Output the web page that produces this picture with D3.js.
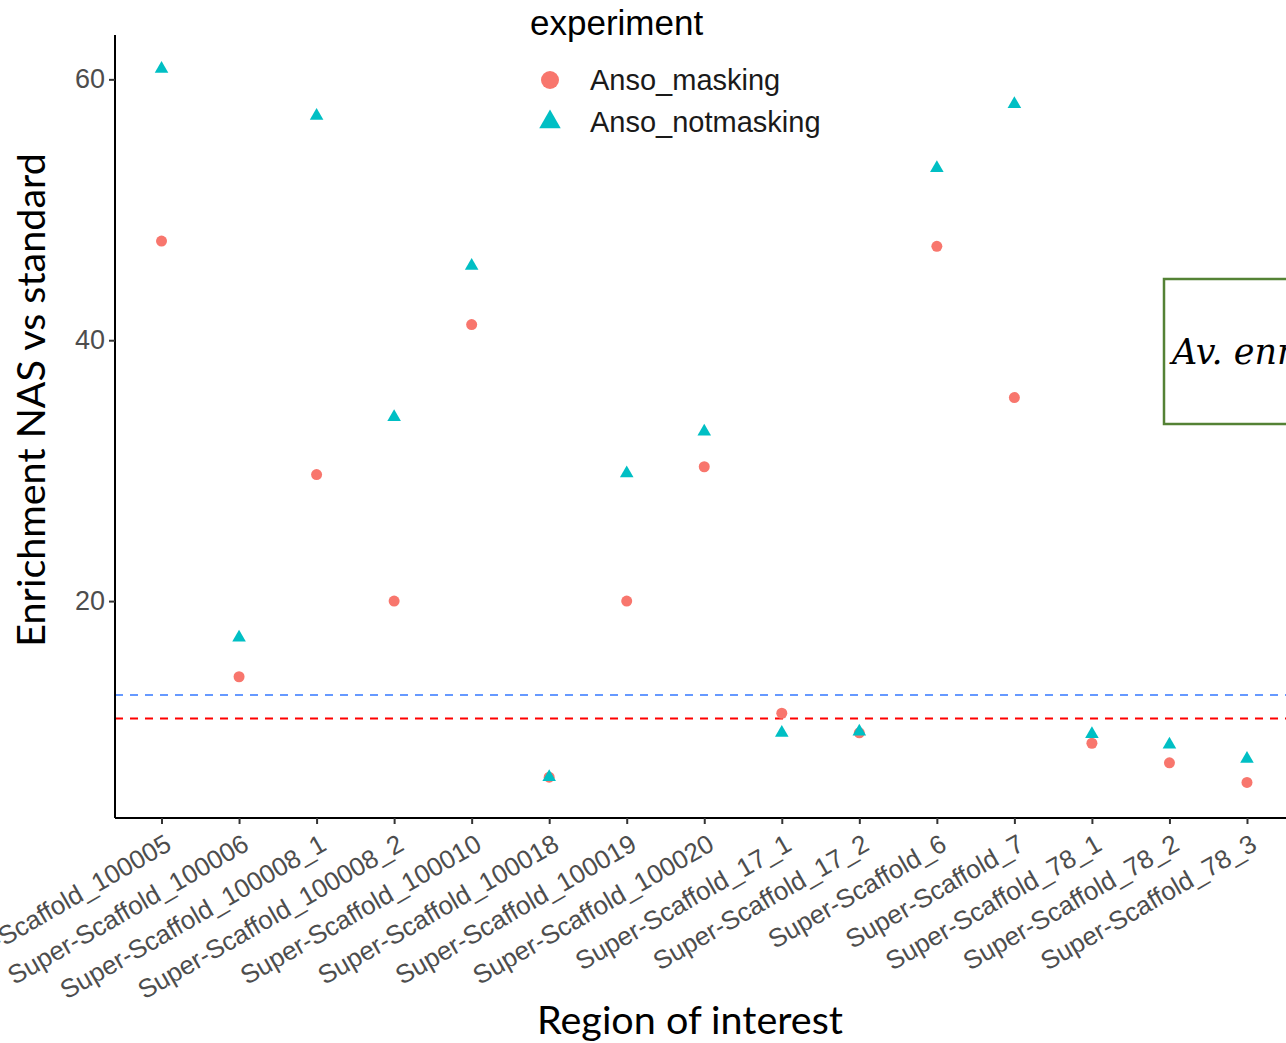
<!DOCTYPE html>
<html>
<head>
<meta charset="utf-8">
<script src="https://cdn.jsdelivr.net/npm/d3@7"></script>
<style>
  body { margin: 0; background: #fff; }
  svg { display: block; }
</style>
</head>
<body>
<svg id="chart" width="1286" height="1043"></svg>
<script>
const regions = [
  'Super-Scaffold_100005', 'Super-Scaffold_100006', 'Super-Scaffold_100008_1',
  'Super-Scaffold_100008_2', 'Super-Scaffold_100010', 'Super-Scaffold_100018',
  'Super-Scaffold_100019', 'Super-Scaffold_100020', 'Super-Scaffold_17_1',
  'Super-Scaffold_17_2', 'Super-Scaffold_6', 'Super-Scaffold_7',
  'Super-Scaffold_78_1', 'Super-Scaffold_78_2', 'Super-Scaffold_78_3'
];
const masking = [47.6, 14.2, 29.7, 20.0, 41.2, 6.5, 20.0, 30.3, 11.4, 9.9, 47.2, 35.6, 9.1, 7.6, 6.1];
const notmasking = [60.8, 17.2, 57.2, 34.1, 45.7, 6.5, 29.8, 33.0, 9.9, 10.0, 53.2, 58.1, 9.8, 9.0, 7.9];
const yTicks = [20, 40, 60];
const refLines = [12.8, 11.0];
const seriesNames = ['Anso_masking', 'Anso_notmasking'];

const svg = d3.select('#chart');
const plotLeft = 115, plotTop = 35, plotBottom = 818, plotRight = 1293.5;

const x = d3.scalePoint().domain(regions).range([plotLeft, plotRight]).padding(0.6);
const y = d3.scaleLinear().domain([3.37, 63.4]).range([plotBottom, plotTop]);

const red = '#F8766D', teal = '#00BFC4';

// reference lines
const refColors = ['#6699FF', '#FF0000'];
svg.selectAll('.ref')
  .data(refLines)
  .enter().append('line')
  .attr('x1', plotLeft).attr('x2', 1286)
  .attr('y1', d => y(d)).attr('y2', d => y(d))
  .attr('stroke', (d, i) => refColors[i])
  .attr('stroke-width', 2)
  .attr('stroke-dasharray', '8,7');

// axes
const yAxis = d3.axisLeft(y).tickValues(yTicks).tickSize(6).tickPadding(4);
const yg = svg.append('g').attr('transform', 'translate(' + plotLeft + ',0)').call(yAxis);
yg.select('.domain').attr('d', 'M0,' + plotTop + 'V' + plotBottom).attr('stroke', '#000').attr('stroke-width', 2);
yg.selectAll('.tick line').attr('stroke', '#333').attr('stroke-width', 2);
yg.selectAll('.tick text')
  .attr('fill', '#4d4d4d')
  .style('font-family', 'Liberation Sans, Arial, sans-serif')
  .style('font-size', '27px');

const xAxis = d3.axisBottom(x).tickSize(6).tickPadding(0);
const xg = svg.append('g').attr('transform', 'translate(0,' + plotBottom + ')').call(xAxis);
xg.select('.domain').attr('d', 'M' + plotLeft + ',0H1286').attr('stroke', '#000').attr('stroke-width', 2);
xg.selectAll('.tick line').attr('stroke', '#333').attr('stroke-width', 2);
xg.selectAll('.tick text')
  .attr('fill', '#4d4d4d')
  .style('font-family', 'Liberation Sans, Arial, sans-serif')
  .style('font-size', '26px')
  .attr('text-anchor', 'end')
  .attr('y', 0).attr('dy', 0)
  .attr('transform', 'translate(11,31) rotate(-30)');

// points
svg.selectAll('.dot-mask')
  .data(masking)
  .enter().append('circle')
  .attr('class', 'dot-mask')
  .attr('cx', (d, i) => x(regions[i]))
  .attr('cy', d => y(d))
  .attr('r', 5.5)
  .attr('fill', red);

const tri = d3.symbol().type(d3.symbolTriangle).size(80);
svg.selectAll('.dot-notmask')
  .data(notmasking)
  .enter().append('path')
  .attr('class', 'dot-notmask')
  .attr('d', tri)
  .attr('transform', (d, i) => 'translate(' + x(regions[i]) + ',' + y(d) + ')')
  .attr('fill', teal);

// axis titles
svg.append('text')
  .attr('x', 690).attr('y', 1034)
  .attr('text-anchor', 'middle')
  .style('font-family', 'Lato, sans-serif')
  .style('font-size', '39.5px')
  .text('Region of interest');

svg.append('text')
  .attr('transform', 'translate(45,400) rotate(-90)')
  .attr('text-anchor', 'middle')
  .style('font-family', 'Lato, sans-serif')
  .style('font-size', '39.5px')
  .text('Enrichment NAS vs standard');

// legend
const legend = svg.append('g');
legend.append('text')
  .attr('x', 530).attr('y', 35)
  .style('font-family', 'Liberation Sans, Arial, sans-serif')
  .style('font-size', '35px')
  .text('experiment');

const legendY = [80, 122];
legend.append('circle').attr('cx', 550).attr('cy', legendY[0]).attr('r', 9).attr('fill', red);
legend.append('path')
  .attr('d', d3.symbol().type(d3.symbolTriangle).size(200))
  .attr('transform', 'translate(550,' + legendY[1] + ')')
  .attr('fill', teal);
legend.selectAll('.leg-label')
  .data(seriesNames)
  .enter().append('text')
  .attr('x', 590).attr('y', (d, i) => legendY[i] + 10)
  .style('font-family', 'Liberation Sans, Arial, sans-serif')
  .style('font-size', '29px')
  .attr('fill', '#1a1a1a')
  .text(d => d);

// annotation box (cropped at the right edge, as in the source)
svg.append('rect')
  .attr('x', 1164).attr('y', 279)
  .attr('width', 160).attr('height', 145)
  .attr('fill', '#fff')
  .attr('stroke', '#548235')
  .attr('stroke-width', 2.5);
svg.append('text')
  .attr('x', 1172).attr('y', 364)
  .style('font-family', 'DejaVu Serif, serif')
  .style('font-style', 'italic')
  .style('font-size', '35px')
  .text('Av. enrichment');
</script>
</body>
</html>
